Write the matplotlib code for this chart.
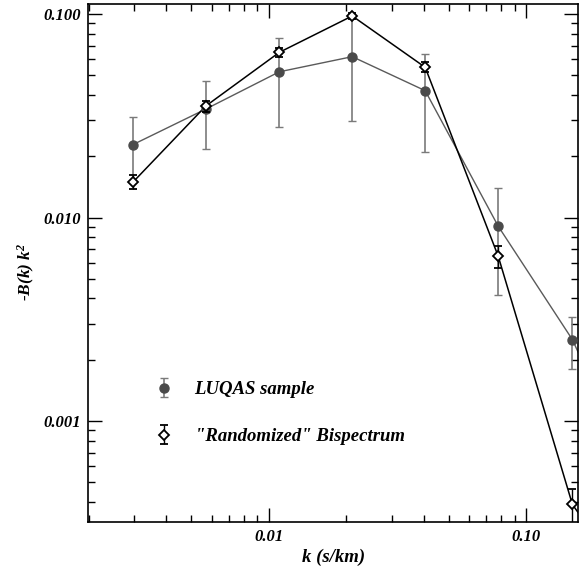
import numpy as np
import matplotlib
matplotlib.use("Agg")
import matplotlib.pyplot as plt
from matplotlib.ticker import FixedLocator, LogLocator, NullFormatter

# wavenumbers (last one is off the axis, only its connecting line shows)
k = [0.00297, 0.0057, 0.011, 0.0211, 0.0405, 0.0778, 0.151, 0.29]

luqas = [0.0228, 0.0341, 0.052, 0.0617, 0.042, 0.00906, 0.00251, 0.00041]
luqas_lo = [0.0150, 0.0217, 0.0278, 0.0298, 0.0209, 0.00418, 0.0018, 0.0003]
luqas_hi = [0.0311, 0.0469, 0.0765, 0.098, 0.0634, 0.01393, 0.00324, 0.0005]

rand = [0.0149, 0.0353, 0.0648, 0.0978, 0.0547, 0.00645, 0.000389, 0.00012]
rand_lo = [0.0138, 0.033, 0.0615, 0.094, 0.052, 0.00566, 0.0003, 0.0001]
rand_hi = [0.0162, 0.0375, 0.0683, 0.1015, 0.0579, 0.00723, 0.000465, 0.00014]

yticks = [0.001, 0.01, 0.1]
ytick_labels = ["0.001", "0.010", "0.100"]
xticks = [0.01, 0.1]
xtick_labels = ["0.01", "0.10"]

plt.rcParams["mathtext.fontset"] = "custom"
plt.rcParams["mathtext.it"] = "Liberation Serif:bold:italic"
plt.rcParams["mathtext.rm"] = "Liberation Serif:bold:italic"
font = dict(family="Liberation Serif", weight="bold", style="italic")

fig = plt.figure(figsize=(5.87, 5.68), dpi=100)
ax = fig.add_axes([0.150, 0.081, 0.835, 0.912])

k = np.array(k)
luqas = np.array(luqas)
rand = np.array(rand)

ax.errorbar(k, luqas,
            yerr=[luqas - np.array(luqas_lo), np.array(luqas_hi) - luqas],
            fmt="o", color="#4a4a4a", ms=6.5, ecolor="#7a7a7a", elinewidth=1.2,
            capsize=3, capthick=1.0, zorder=3, label="LUQAS sample")
ax.plot(k, luqas, "-", color="#5a5a5a", lw=1.0, zorder=2)

ax.errorbar(k, rand,
            yerr=[rand - np.array(rand_lo), np.array(rand_hi) - rand],
            fmt="D", mfc="white", mec="black", mew=1.3, ms=5.0, ecolor="black",
            elinewidth=1.0, capsize=3, capthick=1.0, zorder=4,
            label='"Randomized" Bispectrum')
ax.plot(k, rand, "-", color="black", lw=1.1, zorder=2)

ax.set_xscale("log")
ax.set_yscale("log")
ax.set_xlim(0.00199, 0.159)
ax.set_ylim(0.000319, 0.112)

ax.yaxis.set_major_locator(FixedLocator(yticks))
ax.set_yticklabels(ytick_labels, fontdict=dict(size=12, **font))
ax.yaxis.set_minor_locator(LogLocator(base=10, subs=np.arange(2, 10)))
ax.yaxis.set_minor_formatter(NullFormatter())
ax.xaxis.set_major_locator(FixedLocator(xticks))
ax.set_xticklabels(xtick_labels, fontdict=dict(size=12, **font))
ax.xaxis.set_minor_locator(LogLocator(base=10, subs=np.arange(2, 10)))
ax.xaxis.set_minor_formatter(NullFormatter())

ax.tick_params(which="both", direction="in", top=True, right=True, width=1.0)
ax.tick_params(which="major", length=10, pad=5)
ax.tick_params(which="minor", length=5)
for s in ax.spines.values():
    s.set_linewidth(1.2)

ax.set_xlabel("k (s/km)", fontdict=dict(size=13.5, **font), labelpad=3)
ax.set_ylabel("-B(k) k$^{2}$", fontdict=dict(size=12.5, **font))
ax.yaxis.set_label_coords(-0.104, 0.483)

leg = ax.legend(loc="upper left", bbox_to_anchor=(0.135, 0.272), frameon=False,
                prop=dict(size=13.5, **font), handletextpad=1.15, labelspacing=1.6,
                handlelength=1.0, borderpad=0, borderaxespad=0)

fig.savefig("out.png", dpi=100)
